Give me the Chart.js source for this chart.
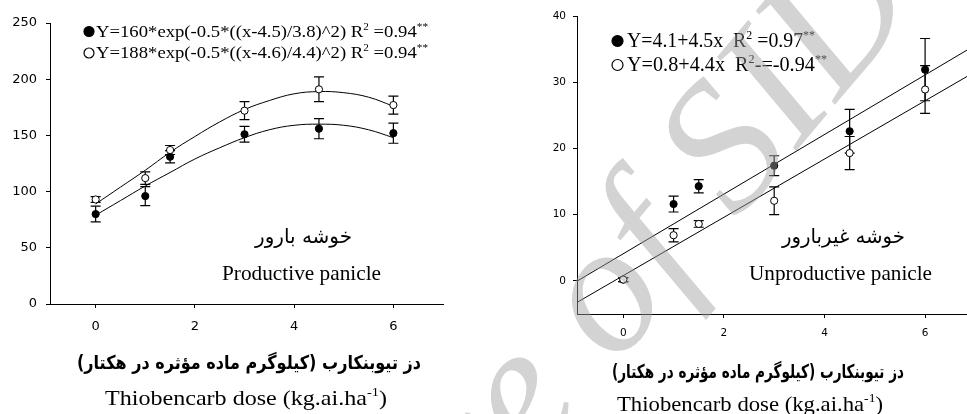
<!DOCTYPE html>
<html>
<head>
<meta charset="utf-8">
<script src="https://cdn.jsdelivr.net/npm/chart.js@4.4.0/dist/chart.umd.min.js"></script>
<style>
  html, body { margin: 0; padding: 0; background: #fff; overflow: hidden; }
  #stage { position: relative; width: 967px; height: 414px; overflow: hidden; background: #fff; }
  #prod { position: absolute; left: 0; top: 0; }
  #unprod { position: absolute; left: 480px; top: 0; }
  #stamp { position: absolute; left: 0; top: 0; pointer-events: none; }
</style>
</head>
<body>
<div id="stage">
  <canvas id="prod" width="480" height="414"></canvas>
  <canvas id="unprod" width="500" height="414"></canvas>
  <canvas id="stamp" width="967" height="414"></canvas>
</div>
<script>
// Thiobencarb doses (kg a.i. per ha)
const doses = [0, 1, 1.5, 3, 4.5, 6];
const xTickValues = [0, 2, 4, 6];

// Productive panicles: two treatments (solid / hollow markers) with standard errors
const prodYTicks = [0, 50, 100, 150, 200, 250];
const prodSolid = [80, 96, 131, 151, 156, 152];
const prodSolidSE = [7, 8.5, 5.5, 7, 9, 9];
const prodHollow = [93, 112, 137, 172, 191, 177];
const prodHollowSE = [2.5, 5.5, 4, 8, 11, 8];

// Fitted gaussian curves for productive panicles
const prodCurveX = [0, 0.5, 1, 1.5, 2, 2.5, 3, 3.5, 4, 4.5, 5, 5.5, 6];
const prodSolidCurve = [79, 92, 105, 117, 129, 139, 148, 155, 159, 160, 159, 155, 148];
const prodHollowCurve = [89, 104, 119, 135, 149, 162, 173, 181, 187, 189, 188, 184, 176];

// Unproductive panicles
const unprodYTicks = [0, 10, 20, 30, 40];
const unprodSolid = [0.2, 11.6, 14.3, 17.4, 22.6, 31.9];
const unprodSolidSE = [0.3, 1.2, 1.0, 1.5, 3.3, 4.7];
const unprodHollow = [0.2, 6.9, 8.6, 12.1, 19.3, 28.9];
const unprodHollowSE = [0.3, 1.0, 0.5, 2.1, 2.5, 3.6];

// Linear regressions (intercept, slope) for unproductive panicles
const unprodSolidFit = [4.1, 4.5];
const unprodHollowFit = [0.8, 4.4];
const fitRange = [-0.92, 7];

const pts = (xs, ys) => xs.map((x, i) => ({ x: x, y: ys[i] }));
const linePts = (coef) => fitRange.map(x => ({ x: x, y: coef[0] + coef[1] * x }));

const SERIF = "'Liberation Serif', 'Times New Roman', serif";
const SANS = "'DejaVu Sans', sans-serif";

// Text helpers: centred text squeezed/stretched to a given width
function fitText(ctx, text, cx, baseline, font, width, rtl) {
  ctx.save();
  ctx.font = font;
  ctx.direction = rtl ? 'rtl' : 'ltr';
  ctx.textAlign = 'center';
  ctx.textBaseline = 'alphabetic';
  ctx.fillStyle = '#000';
  const w = ctx.measureText(text).width;
  ctx.translate(cx, baseline);
  ctx.scale(width / w, 1);
  ctx.fillText(text, 0, 0);
  ctx.restore();
}

// Left-aligned text made of normal and superscript runs
function richText(ctx, parts, left, baseline, size, width) {
  ctx.save();
  ctx.textAlign = 'left';
  ctx.textBaseline = 'alphabetic';
  ctx.fillStyle = '#000';
  let total = 0;
  const ws = parts.map(p => {
    ctx.font = (p.sup ? size * 0.6 : size) + 'px ' + SERIF;
    const w = ctx.measureText(p.t).width;
    total += w;
    return w;
  });
  ctx.translate(left, baseline);
  ctx.scale(width / total, 1);
  let x = 0;
  parts.forEach((p, i) => {
    ctx.font = (p.sup ? size * 0.6 : size) + 'px ' + SERIF;
    ctx.fillText(p.t, x, p.sup ? -size * 0.4 : 0);
    x += ws[i];
  });
  ctx.restore();
}

function legendMarker(ctx, x, y, r, filled) {
  ctx.save();
  ctx.beginPath();
  ctx.arc(x, y, r, 0, Math.PI * 2);
  ctx.lineWidth = 1.2;
  ctx.strokeStyle = '#000';
  ctx.fillStyle = filled ? '#000' : '#fff';
  ctx.fill();
  ctx.stroke();
  ctx.restore();
}

// Vertical error bars with caps, drawn beneath the markers
const errorBars = {
  id: 'errorBars',
  beforeDatasetsDraw(chart) {
    const { ctx, scales: { x, y } } = chart;
    ctx.save();
    ctx.strokeStyle = '#000';
    ctx.lineWidth = 1.2;
    chart.data.datasets.forEach(ds => {
      if (!ds.errors) return;
      ds.data.forEach((p, i) => {
        const e = ds.errors[i];
        const px = x.getPixelForValue(p.x);
        const top = y.getPixelForValue(p.y + e);
        const bot = y.getPixelForValue(p.y - e);
        const cap = 5;
        ctx.beginPath();
        ctx.moveTo(px, top); ctx.lineTo(px, bot);
        ctx.moveTo(px - cap, top); ctx.lineTo(px + cap, top);
        ctx.moveTo(px - cap, bot); ctx.lineTo(px + cap, bot);
        ctx.stroke();
      });
    });
    ctx.restore();
  }
};

function axisOptions(min, max, tickValues, size, fitSize, isX, tickPad) {
  return {
    type: 'linear',
    min: min,
    max: max,
    afterBuildTicks: s => { s.ticks = tickValues.map(v => ({ value: v })); },
    afterFit: s => { if (isX) s.height = fitSize; else s.width = fitSize; },
    border: { display: true, color: '#000', width: 1 },
    grid: { display: true, drawOnChartArea: false, drawTicks: true, tickLength: 4, color: '#000', lineWidth: 1 },
    ticks: { color: '#000', font: { family: SANS, size: size }, padding: tickPad, maxRotation: 0, autoSkip: false }
  };
}

function scatterSet(data, errors, filled, order) {
  return {
    type: 'scatter',
    data: data,
    errors: errors,
    showLine: false,
    pointRadius: 3.6,
    pointHoverRadius: 3.6,
    pointBorderWidth: 1,
    pointBorderColor: '#000',
    pointBackgroundColor: filled ? '#000' : '#fff',
    order: order
  };
}

function fitSet(data, tension) {
  return {
    type: 'line',
    data: data,
    showLine: true,
    borderColor: '#000',
    borderWidth: 1,
    pointRadius: 0,
    fill: false,
    tension: tension,
    order: 5
  };
}

const AXIS_FA = 'دز تیوبنکارب (کیلوگرم ماده مؤثره در هکتار)';
const AXIS_EN = [{ t: 'Thiobencarb dose (kg.ai.ha' }, { t: '-1', sup: true }, { t: ')' }];

function axisTitleEn(ctx, cx, baseline, size, width) {
  richText(ctx, AXIS_EN, cx - width / 2, baseline, size, width);
}

// Panel labels for productive panicles
const prodText = {
  id: 'prodText',
  afterDraw(chart) {
    const ctx = chart.ctx;
    legendMarker(ctx, 89, 31.5, 5, true);
    richText(ctx, [{ t: 'Y=160*exp(-0.5*((x-4.5)/3.8)^2) R' }, { t: '2', sup: true }, { t: ' =0.94' }, { t: '**', sup: true }], 96, 36.5, 17, 332);
    legendMarker(ctx, 89, 53, 5, false);
    richText(ctx, [{ t: 'Y=188*exp(-0.5*((x-4.6)/4.4)^2) R' }, { t: '2', sup: true }, { t: ' =0.94' }, { t: '**', sup: true }], 96, 58, 17, 332);
    fitText(ctx, 'خوشه بارور', 303.5, 243, '20px ' + SANS, 97, true);
    fitText(ctx, 'Productive panicle', 301.5, 280, '21px ' + SERIF, 159, false);
    fitText(ctx, AXIS_FA, 249, 369, 'bold 19px ' + SANS, 344, true);
    axisTitleEn(ctx, 246, 405, 22, 282);
  }
};

// Panel labels for unproductive panicles (canvas offset 480px)
const unprodText = {
  id: 'unprodText',
  afterDraw(chart) {
    const ctx = chart.ctx;
    const o = 480;
    legendMarker(ctx, 617.5 - o, 41, 5.5, true);
    richText(ctx, [{ t: 'Y=4.1+4.5x  R' }, { t: '2', sup: true }, { t: ' =0.97' }, { t: '**', sup: true }], 627 - o, 47.3, 20, 188);
    legendMarker(ctx, 617.5 - o, 65, 5.5, false);
    richText(ctx, [{ t: 'Y=0.8+4.4x  R' }, { t: '2', sup: true }, { t: '-=-0.94' }, { t: '**', sup: true }], 627 - o, 71, 20, 200);
    fitText(ctx, 'خوشه غیربارور', 843.5 - o, 243, '20px ' + SANS, 123, true);
    fitText(ctx, 'Unproductive panicle', 840.5 - o, 280, '21px ' + SERIF, 183, false);
    fitText(ctx, AXIS_FA, 758 - o, 378, 'bold 19px ' + SANS, 292, true);
    axisTitleEn(ctx, 750 - o, 411, 22, 266);
  }
};

const common = {
  responsive: false,
  animation: false,
  devicePixelRatio: 1,
  plugins: { legend: { display: false }, tooltip: { enabled: false } },
  events: []
};

new Chart(document.getElementById('prod'), {
  type: 'scatter',
  data: {
    datasets: [
      scatterSet(pts(doses, prodHollow), prodHollowSE, false, 1),
      scatterSet(pts(doses, prodSolid), prodSolidSE, true, 2),
      fitSet(pts(prodCurveX, prodSolidCurve), 0.4),
      fitSet(pts(prodCurveX, prodHollowCurve), 0.4)
    ]
  },
  options: Object.assign({}, common, {
    layout: { padding: { left: 0, top: 23, right: 37, bottom: 0 } },
    scales: {
      x: axisOptions(-0.92, 7, xTickValues, 13, 110, true, 11),
      y: axisOptions(0, 250, prodYTicks, 13, 50, false, 9)
    }
  }),
  plugins: [errorBars, prodText]
});

new Chart(document.getElementById('unprod'), {
  type: 'scatter',
  data: {
    datasets: [
      scatterSet(pts(doses, unprodHollow), unprodHollowSE, false, 1),
      scatterSet(pts(doses, unprodSolid), unprodSolidSE, true, 2),
      fitSet(linePts(unprodSolidFit), 0),
      fitSet(linePts(unprodHollowFit), 0)
    ]
  },
  options: Object.assign({}, common, {
    layout: { padding: { left: 0, top: 16, right: 4, bottom: 0 } },
    scales: {
      x: axisOptions(-0.92, 7, xTickValues, 10.5, 100, true, 9),
      y: axisOptions(-5, 40, unprodYTicks, 10.5, 97, false, 7)
    }
  }),
  plugins: [errorBars, unprodText]
});

// Translucent diagonal stamp across the figure
(function () {
  const ctx = document.getElementById('stamp').getContext('2d');
  ctx.save();
  ctx.translate(615, 367);
  ctx.rotate(-50 * Math.PI / 180);
  ctx.font = 'italic 185px ' + SERIF;
  ctx.fillStyle = 'rgba(160,160,160,0.46)';
  ctx.textBaseline = 'alphabetic';
  ctx.textAlign = 'right';
  ctx.fillText('Archive ', 0, 0);
  ctx.textAlign = 'left';
  ctx.fillText('of SID', 0, 0);
  ctx.restore();
})();
</script>
</body>
</html>
